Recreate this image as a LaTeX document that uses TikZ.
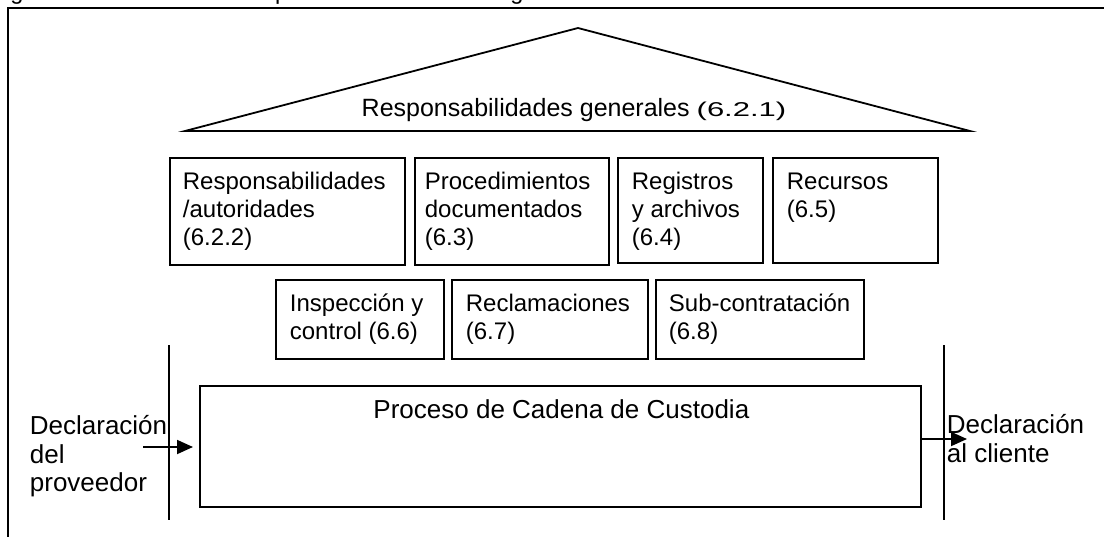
\documentclass[tikz,border=0pt]{standalone}
\usepackage{fontspec}
\usepackage{graphicx}
\setmainfont{Liberation Sans}
\usetikzlibrary{arrows.meta,calc}
\begin{document}
\begin{tikzpicture}[x=1pt,y=-1pt, line width=1.8pt,
  box/.style={draw, rectangle, inner sep=0pt, anchor=north west},
  txt/.style={anchor=north west, inner sep=0pt, align=left, font=\fontsize{24}{28}\selectfont},
  lbl/.style={anchor=north west, inner sep=0pt, align=left, font=\fontsize{26}{28.5}\selectfont},
  arr/.style={-{Triangle[length=16pt,width=14pt]}}]
\useasboundingbox (0,0) rectangle (1104,536);
\clip (0,0) rectangle (1104,536);
% caption (cut off at the top in the reference)
\node[anchor=base west, inner sep=0pt, font=\fontsize{23.5}{26}\selectfont] (cap) at (-10,-0.5) {Figura 3: Estructura de los puntos del sistema de gestión};
% outer frame
\coordinate (fr1) at (8,545);
\coordinate (fr2) at (8,8);
\coordinate (fr3) at (1112,8);
\draw (fr1) -- (fr2) -- (fr3);
% roof
\coordinate (apex) at (578,28);
\coordinate (bl) at (185,131);
\coordinate (br) at (970,131);
\draw (bl) -- (apex) -- (br) -- cycle;
\node[anchor=base, inner sep=0pt] (gen) at (574,116) {\fontsize{25}{28}\selectfont Responsabilidades generales \fontsize{20}{24}\selectfont\scalebox{1.55}[1]{(6.2.1)}};
% first row
\node[box, minimum width=235pt, minimum height=107pt] (b1) at (169,157) {};
\node[box, minimum width=194pt, minimum height=107pt] (b2) at (414,157) {};
\node[box, minimum width=145pt, minimum height=105pt] (b3) at (617,157) {};
\node[box, minimum width=165pt, minimum height=105pt] (b4) at (772,157) {};
\node[txt] (t1) at ($(b1.north west)+(13,12.4)$) {\strut Responsabilidades\\/autoridades\\(6.2.2)};
\node[txt] (t2) at ($(b2.north west)+(10,12.4)$) {\strut Procedimientos\\documentados\\(6.3)};
\node[txt] (t3) at ($(b3.north west)+(14,12.4)$) {\strut Registros\\y archivos\\(6.4)};
\node[txt] (t4) at ($(b4.north west)+(14,12.4)$) {\strut Recursos\\(6.5)};
% second row
\node[box, minimum width=168pt, minimum height=79pt] (b5) at (275,279) {};
\node[box, minimum width=196pt, minimum height=79pt] (b6) at (451,279) {};
\node[box, minimum width=208pt, minimum height=79pt] (b7) at (655,279) {};
\node[txt] (t5) at ($(b5.north west)+(14,12.4)$) {\strut Inspección y\\control (6.6)};
\node[txt] (t6) at ($(b6.north west)+(14,12.4)$) {\strut Reclamaciones\\(6.7)};
\node[txt] (t7) at ($(b7.north west)+(13,12.4)$) {\strut Sub-contratación\\(6.8)};
% process
\node[box, minimum width=721pt, minimum height=121pt] (proc) at (199,385) {};
\node[anchor=base, inner sep=0pt, font=\fontsize{26}{28}\selectfont] (ptxt) at ($(proc.north)+(1,33)$) {Proceso de Cadena de Custodia};
% vertical boundary lines
\coordinate (vla) at (169,345);
\coordinate (vlb) at (169,520);
\coordinate (vra) at (944,345);
\coordinate (vrb) at (944,520);
\draw (vla) -- (vlb);
\draw (vra) -- (vrb);
% input / output
\node[lbl] (din) at (29,414) {\strut Declaración\\del\\proveedor};
\node[lbl] (dout) at (946,413) {\strut Declaración\\al cliente};
\coordinate (ain) at (143,447);
\coordinate (aout) at (967,439);
\draw[arr, shorten >=6pt] (ain) -- (proc.west |- ain);
\draw[arr] (proc.east |- aout) -- (aout);
\end{tikzpicture}
\end{document}
